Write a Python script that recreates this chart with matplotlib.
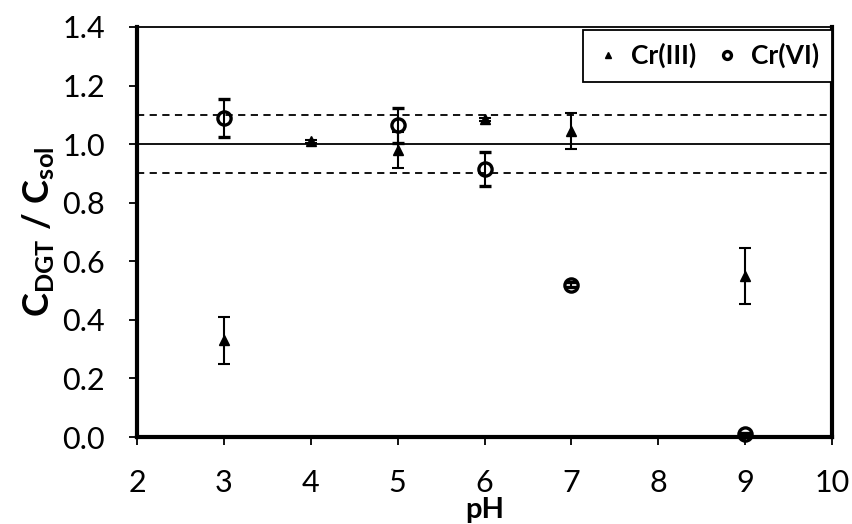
import matplotlib
matplotlib.use("Agg")
import matplotlib.pyplot as plt

plt.rcParams.update({
    "font.family": "Lato",
    "mathtext.fontset": "custom",
    "mathtext.rm": "Lato",
    "mathtext.bf": "Lato:bold",
    "mathtext.it": "Lato:italic",
})

# data
ph_cr3 = [3, 4, 5, 6, 7, 9]
ratio_cr3 = [0.33, 1.01, 0.98, 1.085, 1.045, 0.55]
err_cr3 = [0.08, 0.005, 0.06, 0.005, 0.063, 0.095]

ph_cr6 = [3, 5, 6, 7, 9]
ratio_cr6 = [1.09, 1.065, 0.915, 0.52, 0.01]
err_cr6 = [0.065, 0.06, 0.058, 0.008, 0.005]

ref_line = 1.0
tolerance = [0.9, 1.1]

x_ticks = [2, 3, 4, 5, 6, 7, 8, 9, 10]
y_ticks = [0.0, 0.2, 0.4, 0.6, 0.8, 1.0, 1.2, 1.4]

fig = plt.figure(figsize=(8.53, 5.24), dpi=100)
ax = fig.add_axes([0.1606, 0.166, 0.8148, 0.7825])

ax.axhline(ref_line, color="black", lw=1.3, zorder=1)
for t in tolerance:
    ax.axhline(t, color="black", lw=1.3, ls=(0, (4, 3)), zorder=1)

ax.errorbar(ph_cr3, ratio_cr3, yerr=err_cr3, fmt="^", color="black",
            markersize=7, ecolor="black", elinewidth=1.5, capsize=4.5,
            capthick=1.5, label="Cr(III)", zorder=3, clip_on=False)
ax.errorbar(ph_cr6, ratio_cr6, yerr=err_cr6, fmt="o", mfc="none", mec="black",
            mew=2.4, markersize=9.5, ecolor="black", elinewidth=1.5,
            capsize=4.5, capthick=1.5, label="Cr(VI)", zorder=4, clip_on=False)

ax.set_xlim(2, 10)
ax.set_ylim(0, 1.4)
ax.set_xticks(x_ticks)
ax.set_yticks(y_ticks)
ax.set_yticklabels([f"{v:.1f}" for v in y_ticks])
ax.tick_params(axis="both", direction="out", length=6, width=1.3,
               labelsize=22, colors="black")
ax.tick_params(axis="x", pad=17)
ax.tick_params(axis="y", pad=17)

for side in ["left", "bottom", "right"]:
    ax.spines[side].set_linewidth(3.0)
ax.spines["top"].set_linewidth(1.3)

ax.set_xlabel("pH", fontsize=21, fontweight="bold", labelpad=0)
ax.set_ylabel(r"$\mathbf{C_{DGT}\ /\ C_{sol}}$", fontsize=26, labelpad=4)

# legend markers shown without error bars
handles, labels = ax.get_legend_handles_labels()
leg = ax.legend([h[0] for h in handles], labels, loc="upper right",
                bbox_to_anchor=(1.0, 0.993), ncol=2, frameon=True, fancybox=False,
                edgecolor="black", framealpha=1, borderaxespad=0,
                prop={"weight": "bold", "size": 19}, handlelength=0.9,
                handletextpad=0.45, columnspacing=0.7, markerscale=0.6,
                borderpad=0.5)
leg.get_frame().set_linewidth(1.3)

fig.savefig("out.png", dpi=100)
